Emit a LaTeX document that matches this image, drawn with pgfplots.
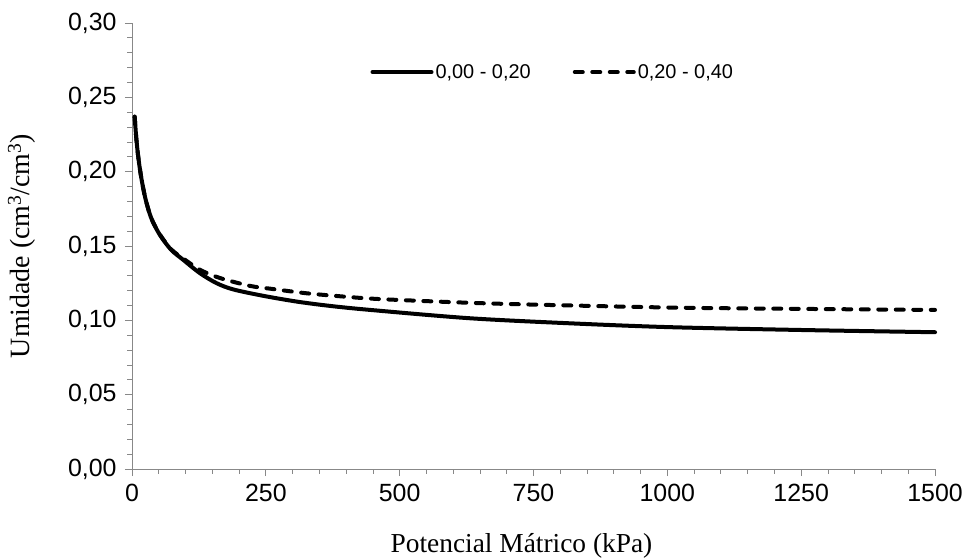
\documentclass[border=0pt]{standalone}
\usepackage{fontspec}
\setmainfont{Liberation Serif}
\setsansfont{Liberation Sans}
\usepackage{pgfplots}
\pgfplotsset{compat=1.18}
\definecolor{axgray}{HTML}{888888}
\begin{document}
\begin{tikzpicture}
\useasboundingbox (-132bp,-90bp) rectangle (832bp,469bp);
\begin{axis}[
  scale only axis,
  width=803bp, height=446bp,
  xmin=0, xmax=1500, ymin=0, ymax=0.30,
  axis lines*=left,
  axis line style={axgray, line width=0.9bp},
  xtick={0,250,...,1500},
  ytick={0,0.05,0.10,0.15,0.20,0.25,0.30},
  minor x tick num=4,
  minor y tick num=4,
  tick align=outside,
  major tick length=7bp,
  minor tick length=4.5bp,
  every tick/.style={axgray, line width=0.8bp},
  tick label style={font=\fontsize{25}{30}\selectfont\sffamily, black},
  /pgf/number format/assume math mode=true,
  xticklabel style={/pgf/number format/1000 sep={}, yshift=-5bp},
  yticklabel style={/pgf/number format/fixed, /pgf/number format/fixed zerofill,
    /pgf/number format/precision=2, /pgf/number format/use comma, xshift=-5bp},
  xlabel={Potencial Mátrico (kPa)},
  ylabel={Umidade (cm\textsuperscript{3}/cm\textsuperscript{3})},
  label style={font=\fontsize{27.5}{32}\selectfont},
  xlabel style={at={(axis description cs:0.5,0)}, anchor=center, yshift=-77bp, xshift=-12bp},
  ylabel style={at={(axis description cs:0,0.5)}, anchor=center, yshift=110bp, font=\fontsize{28}{32}\selectfont},
  legend style={draw=none, fill=none, font=\fontsize{20}{24}\selectfont\sffamily,
    at={(axis description cs:0.524,0.89)}, anchor=center,
    /tikz/every even column/.append style={column sep=40bp}},
  legend columns=2,
  legend image code/.code={\draw[#1] (0bp,0bp) -- (59bp,0bp);},
  clip=false,
]
\addplot[black, line width=4bp, smooth, tension=0.5, line cap=round] coordinates {
(5,0.237) (8,0.2225) (12,0.209) (17.5,0.1956) (25,0.182) (36,0.1687) (52,0.1575)
(73,0.1475) (96,0.1406) (127,0.1317) (158,0.125) (189,0.1208) (245,0.1165)
(308,0.1126) (370,0.1097) (445,0.107) (631,0.1014) (818,0.098) (1005,0.0954)
(1250,0.0935) (1500,0.092)
};
\addlegendentry{0,00 - 0,20}
\addplot[black, line width=4bp, smooth, tension=0.5, line cap=round, dash pattern=on 8bp off 9.5bp] coordinates {
(5,0.237) (8,0.2225) (12,0.209) (17.5,0.1956) (25,0.182) (36,0.1687) (52,0.1578)
(73,0.1478) (96,0.1415) (127,0.134) (164,0.1285) (220,0.1232) (260,0.1212)
(326,0.1182) (395,0.116) (457,0.1144) (600,0.1122) (725,0.1108) (1005,0.1086)
(1250,0.1077) (1500,0.107)
};
\addlegendentry{0,20 - 0,40}
\end{axis}
\end{tikzpicture}
\end{document}
